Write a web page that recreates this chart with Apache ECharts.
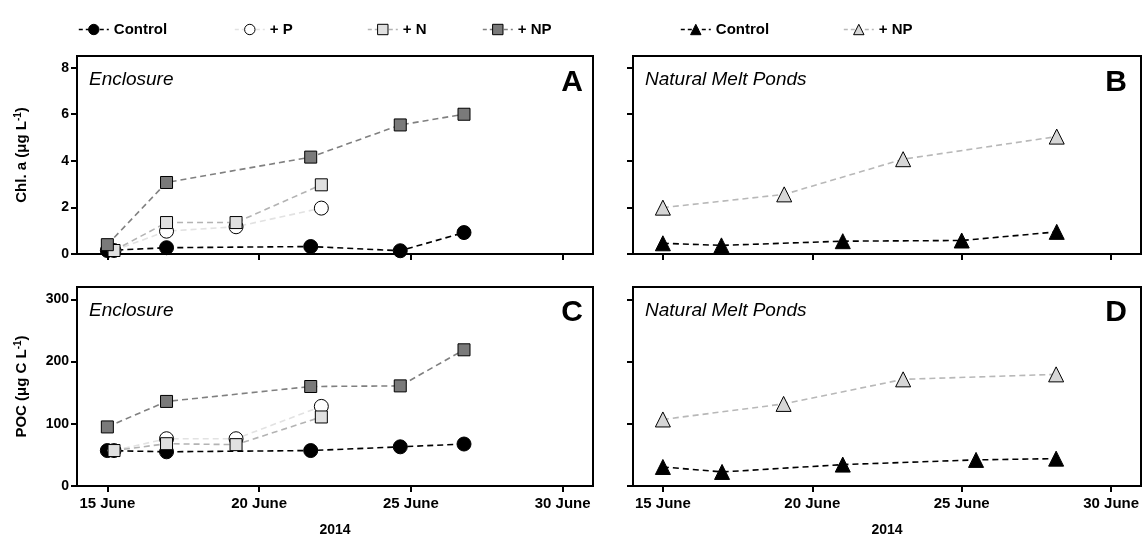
<!DOCTYPE html>
<html>
<head>
<meta charset="utf-8">
<script src="https://cdn.jsdelivr.net/npm/echarts@6/dist/echarts.min.js"></script>
<style>
html,body{margin:0;padding:0;background:#fff;}
#chart{width:1147px;height:539px;}
</style>
</head>
<body>
<div id="chart"></div>
<script>
// ---- Data (x = day of June 2014) ----
var xTicks = [15, 20, 25, 30];
var chlTicks = [0, 2, 4, 6, 8];
var pocTicks = [0, 100, 200, 300];

// Enclosure sampling days
var encDaysFull = [15, 16.95, 21.7, 24.65, 26.75];      // Control, +NP
var encDaysShort = [15.22, 16.95, 19.24, 22.05];        // +P, +N

// Panel A: Chl. a enclosure
var chlCtrlEnc = [0.15, 0.27, 0.32, 0.14, 0.92];
var chlPEnc    = [0.15, 0.98, 1.17, 1.97];
var chlNEnc    = [0.15, 1.35, 1.35, 2.97];
var chlNPEnc   = [0.40, 3.07, 4.16, 5.54, 6.00];

// Panel C: POC enclosure
var pocCtrlEnc = [57, 55, 57, 63, 67.5];
var pocPEnc    = [57, 76, 76, 128];
var pocNEnc    = [57, 68, 66.5, 111];
var pocNPEnc   = [95, 136, 160, 161, 219];

// Natural melt ponds days
var pondCtrlDaysB = [15, 16.96, 21.02, 25.0, 28.18];
var pondNPDaysB   = [15, 19.06, 23.04, 28.18];
var pondCtrlDaysD = [15, 16.98, 21.02, 25.48, 28.16];
var pondNPDaysD   = [15, 19.04, 23.04, 28.16];

// Panel B: Chl. a ponds
var chlCtrlPond = [0.46, 0.37, 0.55, 0.58, 0.95];
var chlNPPond   = [1.99, 2.56, 4.07, 5.04];

// Panel D: POC ponds
var pocCtrlPond = [30.6, 22.6, 34.4, 42, 44];
var pocNPPond   = [107, 132, 171.5, 179.5];

// ---- Helpers ----
function pairs(xs, ys) { return xs.map(function (x, i) { return [x, ys[i]]; }); }
var FONT = 'Liberation Sans, Arial, sans-serif';

function xAxisDef(gi, showLabels) {
  return {
    type: 'value', gridIndex: gi, min: 14, max: 31,
    axisLine: { show: true, onZero: false, lineStyle: { color: '#000', width: 2 } },
    axisTick: { show: true, length: 6, inside: false, customValues: xTicks, lineStyle: { color: '#000', width: 2 } },
    axisLabel: {
      show: showLabels, customValues: xTicks, margin: 10,
      color: '#000', fontFamily: FONT, fontWeight: 'bold', fontSize: 15,
      formatter: function (v) { return v + ' June'; }
    },
    splitLine: { show: false },
    name: showLabels ? '2014' : '',
    nameLocation: 'middle', nameGap: 37,
    nameTextStyle: { color: '#000', fontFamily: FONT, fontWeight: 'bold', fontSize: 14 }
  };
}
function yAxisDef(gi, max, ticks, showLabels, name) {
  return {
    type: 'value', gridIndex: gi, min: 0, max: max,
    axisLine: { show: true, lineStyle: { color: '#000', width: 2 } },
    axisTick: { show: true, length: 6, inside: false, customValues: ticks, lineStyle: { color: '#000', width: 2 } },
    axisLabel: {
      show: showLabels, customValues: ticks, margin: 8,
      color: '#000', fontFamily: FONT, fontWeight: 'bold', fontSize: 14
    },
    splitLine: { show: false },
    name: name || '', nameLocation: 'middle', nameRotate: 90, nameGap: 46,
    nameTextStyle: {
      color: '#000', fontFamily: FONT, fontWeight: 'bold', fontSize: 15,
      rich: { sup: { fontFamily: FONT, fontWeight: 'bold', fontSize: 10, color: '#000', padding: [0, 0, 8, 0] } }
    }
  };
}
function lineSeries(name, gi, data, opts) {
  return {
    type: 'line', name: name, xAxisIndex: gi, yAxisIndex: gi, data: data,
    symbol: opts.symbol, symbolSize: opts.size,
    lineStyle: { type: [6, 4], width: 1.6, color: opts.line },
    itemStyle: { color: opts.fill, borderColor: '#000', borderWidth: 1 },
    emphasis: { disabled: true },
    z: opts.z || 2
  };
}
var sCtrl = { symbol: 'circle', size: 14, fill: '#000', line: '#000', z: 2 };
var sP    = { symbol: 'circle', size: 14, fill: '#fff', line: '#e2e2e2', z: 3 };
var sN    = { symbol: 'rect',   size: 12, fill: '#e0e0e0', line: '#b3b3b3', z: 4 };
var sNP   = { symbol: 'rect',   size: 12, fill: '#7a7a7a', line: '#808080', z: 5 };
var sTC   = { symbol: 'triangle', size: 15, fill: '#000', line: '#000', z: 3 };
var sTNP  = { symbol: 'triangle', size: 15, fill: '#d6d6d6', line: '#b8b8b8', z: 4 };

function legendDef(name, left, st) {
  return {
    data: [{
      name: name,
      itemStyle: { color: st.fill, borderColor: '#000', borderWidth: 1 },
      lineStyle: { color: st.line, width: 1.6, type: [4, 3] }
    }],
    left: left, top: 17, itemWidth: 30, itemHeight: 13, itemGap: 6,
    selectedMode: false,
    formatter: function (n) { return n.replace(' (ponds)', ''); },
    textStyle: { color: '#000', fontFamily: FONT, fontWeight: 'bold', fontSize: 15 }
  };
}

function txt(text, x, y, size, style, weight, align) {
  return {
    type: 'text', x: x, y: y, silent: true,
    style: {
      text: text, fill: '#000', fontFamily: FONT, fontSize: size,
      fontStyle: style, fontWeight: weight,
      textAlign: align, textVerticalAlign: 'middle'
    }
  };
}

var chart = echarts.init(document.getElementById('chart'), null, { renderer: 'canvas' });
chart.setOption({
  animation: false,
  backgroundColor: '#fff',
  grid: [
    { left: 77, top: 56, width: 516, height: 198, show: true, borderColor: '#000', borderWidth: 2, backgroundColor: 'transparent' },
    { left: 633, top: 56, width: 508, height: 198, show: true, borderColor: '#000', borderWidth: 2, backgroundColor: 'transparent' },
    { left: 77, top: 287, width: 516, height: 199, show: true, borderColor: '#000', borderWidth: 2, backgroundColor: 'transparent' },
    { left: 633, top: 287, width: 508, height: 199, show: true, borderColor: '#000', borderWidth: 2, backgroundColor: 'transparent' }
  ],
  xAxis: [xAxisDef(0, false), xAxisDef(1, false), xAxisDef(2, true), xAxisDef(3, true)],
  yAxis: [
    yAxisDef(0, 8.5, chlTicks, true, 'Chl. a (\u03bcg L{sup|-1})'),
    yAxisDef(1, 8.5, chlTicks, false, ''),
    yAxisDef(2, 320, pocTicks, true, 'POC (\u03bcg C L{sup|-1})'),
    yAxisDef(3, 320, pocTicks, false, '')
  ],
  legend: [
    legendDef('Control', 73, sCtrl),
    legendDef('+ P', 229, sP),
    legendDef('+ N', 362, sN),
    legendDef('+ NP', 477, sNP),
    legendDef('Control (ponds)', 675, sTC),
    legendDef('+ NP (ponds)', 838, sTNP)
  ],
  series: [
    lineSeries('Control', 0, pairs(encDaysFull, chlCtrlEnc), sCtrl),
    lineSeries('+ P', 0, pairs(encDaysShort, chlPEnc), sP),
    lineSeries('+ N', 0, pairs(encDaysShort, chlNEnc), sN),
    lineSeries('+ NP', 0, pairs(encDaysFull, chlNPEnc), sNP),
    lineSeries('Control', 2, pairs(encDaysFull, pocCtrlEnc), sCtrl),
    lineSeries('+ P', 2, pairs(encDaysShort, pocPEnc), sP),
    lineSeries('+ N', 2, pairs(encDaysShort, pocNEnc), sN),
    lineSeries('+ NP', 2, pairs(encDaysFull, pocNPEnc), sNP),
    lineSeries('Control (ponds)', 1, pairs(pondCtrlDaysB, chlCtrlPond), sTC),
    lineSeries('+ NP (ponds)', 1, pairs(pondNPDaysB, chlNPPond), sTNP),
    lineSeries('Control (ponds)', 3, pairs(pondCtrlDaysD, pocCtrlPond), sTC),
    lineSeries('+ NP (ponds)', 3, pairs(pondNPDaysD, pocNPPond), sTNP)
  ],
  graphic: [
    txt('Enclosure', 89, 80, 19, 'italic', 'normal', 'left'),
    txt('Natural Melt Ponds', 645, 80, 19, 'italic', 'normal', 'left'),
    txt('Enclosure', 89, 311, 19, 'italic', 'normal', 'left'),
    txt('Natural Melt Ponds', 645, 311, 19, 'italic', 'normal', 'left'),
    txt('A', 583, 83, 30, 'normal', 'bold', 'right'),
    txt('B', 1127, 83, 30, 'normal', 'bold', 'right'),
    txt('C', 583, 313, 30, 'normal', 'bold', 'right'),
    txt('D', 1127, 313, 30, 'normal', 'bold', 'right')
  ]
});
</script>
</body>
</html>
